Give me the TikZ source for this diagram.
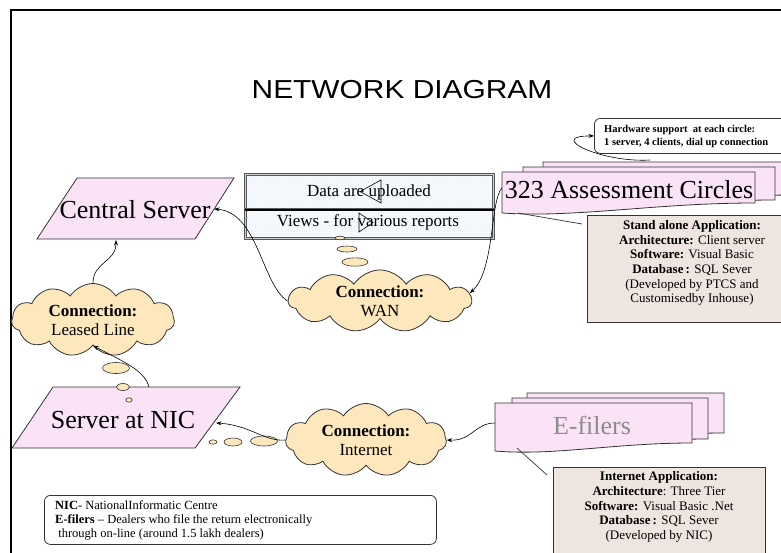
\documentclass[tikz,border=0pt]{standalone}
\usepackage{graphicx}
\usepackage{fontspec}
\setmainfont{Liberation Serif}
\newfontfamily\headfont{Liberation Sans}
\usetikzlibrary{shapes.symbols,shapes.geometric,arrows.meta,patterns}

\definecolor{sheetpink}{HTML}{FBE3F7}
\definecolor{puff}{HTML}{FDE7BD}
\definecolor{notefill}{HTML}{EEE4E0}
\definecolor{edge}{HTML}{333333}
\definecolor{datafill}{HTML}{F6FAFD}
\definecolor{datadot}{HTML}{D3E2EE}
\definecolor{fadedtext}{HTML}{8C8C8C}

\tikzset{
  link/.style={draw=black, line width=0.6pt, -{Stealth[length=5.5pt,width=4pt]}},
  pointer/.style={draw=edge, line width=0.7pt},
  sheet/.style={fill=sheetpink, draw=edge, line width=0.8pt},
  serverbox/.style={fill=sheetpink, draw=edge, line width=0.8pt},
  bigtext/.style={font=\fontsize{26}{30}\selectfont, inner sep=0pt},
  cloudnode/.style={cloud, cloud puffs=11, cloud puff arc=115, cloud ignores aspect,
    fill=puff, draw=edge, line width=0.8pt, align=center, inner sep=0pt,
    font=\fontsize{17}{19.5}\selectfont},
  bubble/.style={fill=puff, draw=edge, line width=0.6pt},
  databox/.style={preaction={fill=datafill}, pattern=dots, pattern color=datadot,
    draw=gray!70!black, double=gray!40, double distance=1.2pt, line width=0.6pt,
    inner sep=0pt, font=\fontsize{17}{20}\selectfont},
  notebox/.style={fill=notefill, draw=edge, line width=0.9pt, inner sep=0pt},
  notetext/.style={align=center, inner sep=0pt, font=\fontsize{13}{14.6}\selectfont},
  roundbox/.style={fill=white, draw=edge, line width=0.8pt, rounded corners=6pt, inner sep=0pt},
}

% one sheet of a stacked document: left x, top y, right x, right bottom y, left bottom y
\newcommand\sheetpath[5]{%
  \pgfmathsetmacro\sheetw{#3-#1}%
  \path[sheet] (#1,#2) -- (#3,#2) -- (#3,#4)
    .. controls ({#3-0.4*\sheetw},#4) and ({#1+0.3*\sheetw},{#5+5}) .. (#1,#5) -- cycle;%
}

\begin{document}
\begin{tikzpicture}[x=1pt,y=-1pt]
\useasboundingbox (0,0) rectangle (781,552);

% slide frame
\draw[line width=2.5pt] (11,600) -- (11,10) -- (800,10);

% heading
\node[font=\headfont\fontsize{26}{30}\selectfont, inner sep=0pt] (title) at (402,90)
  {\scalebox{1.15}[1]{NETWORK DIAGRAM}};

% central server
\path[serverbox] (77,178) -- (234,178) -- (195,239) -- (37,239) -- cycle;
\node[bigtext] (cs) at (135,210) {Central Server};
\coordinate (csBottom) at (116,240);
\coordinate (csRight) at (214,209);

% server at NIC
\path[serverbox] (53,387) -- (240,387) -- (195,448) -- (12,448) -- cycle;
\node[bigtext] (nic) at (123,420) {Server at NIC};
\coordinate (nicTop) at (149,387);
\coordinate (nicRight) at (216,423);

% upload / view panel
\node[databox, minimum width=248, minimum height=35, anchor=north west] (up) at (245,174) {};
\node[databox, minimum width=248, minimum height=29, anchor=north west] (down) at (245,209) {};
\node[font=\fontsize{17}{20}\selectfont, inner sep=0pt] (uptext) at (369,192) {Data are uploaded};
\node[font=\fontsize{17}{20}\selectfont, inner sep=0pt] (downtext) at (368,222) {Views - for various reports};
\draw[line width=2pt] (up.south west) -- (up.south east);
\draw[line width=0.6pt] (360,191.5) -- (381,180) -- (381,203) -- cycle;
\draw[line width=0.6pt] (359,213) -- (373,222.5) -- (359,232) -- cycle;

% assessment circles, stacked sheets
\sheetpath{543}{162}{795}{195}{205}
\sheetpath{523}{167}{775}{200}{210}
\sheetpath{502}{172}{755}{203}{213}
\node[bigtext] (circles) at (629,190) {323 Assessment Circles};
\coordinate (acLeft) at (502,188);
\coordinate (acTop) at (650,160);
\coordinate (acFoot) at (518,213);

% e-filers, stacked sheets
\sheetpath{527}{393}{724}{433}{441}
\sheetpath{512}{398}{708}{439}{446}
\sheetpath{495}{403}{692}{443}{451}
\node[bigtext, text=fadedtext] (efilers) at (592,425) {E-filers};
\coordinate (efLeft) at (495,423);
\coordinate (efFoot) at (517,448);

% hardware note
\node[roundbox, minimum width=210, minimum height=35, anchor=north west] (hw) at (594,118) {};
\node[anchor=west, align=left, inner sep=0pt, font=\bfseries\fontsize{10.5}{13}\selectfont] (hwtext) at (604,136.5)
  {Hardware support\ \ at each circle:\\1 server, 4 clients, dial up connection};

% stand alone application note
\node[notebox, minimum width=212, minimum height=107, anchor=north west] (sabox) at (587,215) {};
\node[notetext] (satext) at (692,263)
  {\textbf{Stand alone Application:}\\
   \textbf{Architecture:} Client server\\
   \textbf{Software:} Visual Basic\\
   \textbf{Database\,:} SQL Sever\\
   (Developed by PTCS and\\
   Customisedby Inhouse)};
\draw[pointer] (acFoot) -- ([xshift=-5pt,yshift=-9pt]sabox.north west);

% internet application note
\node[notebox, minimum width=212, minimum height=100, anchor=north west] (iabox) at (553,467) {};
\node[notetext] (iatext) at (659,507)
  {\textbf{Internet Application:}\\
   \textbf{Architecture}: Three Tier\\
   \textbf{Software:} Visual Basic .Net\\
   \textbf{Database\,:} SQL Sever\\
   (Developed by NIC)};
\draw[pointer] (efFoot) -- ([xshift=-6pt,yshift=-8pt]iabox.north west);

% legend
\node[roundbox, minimum width=392, minimum height=49, anchor=north west] (legend) at (44,495) {};
\node[anchor=west, align=left, inner sep=0pt, font=\fontsize{12.5}{14}\selectfont] (legendtext) at (55,520)
  {\textbf{NIC}- NationalInformatic Centre\\
   \textbf{E-filers} -- Dealers who file the return electronically\\
   \ through on-line (around 1.5 lakh dealers)};

% connections
\node[cloudnode, minimum width=163, minimum height=73] (leased) at (93,320) {\textbf{Connection:}\\Leased Line};
\node[cloudnode, minimum width=183, minimum height=58] (wan) at (380,301) {\textbf{Connection:}\\WAN};
\node[cloudnode, minimum width=161, minimum height=73] (inet) at (366,440) {\textbf{Connection:}\\Internet};

% thought bubbles
\draw[bubble] (340,238) ellipse [x radius=5, y radius=1.8];
\draw[bubble] (347,249) ellipse [x radius=10, y radius=3];
\draw[bubble] (355,262) ellipse [x radius=13, y radius=4.2];
\draw[bubble] (116,368) ellipse [x radius=13.5, y radius=5.5];
\draw[bubble] (123,387) ellipse [x radius=6.5, y radius=3.5];
\draw[bubble] (129,400) ellipse [x radius=3.2, y radius=2.2];
\draw[bubble] (213,442) ellipse [x radius=4, y radius=2.2];
\draw[bubble] (233,442) ellipse [x radius=9, y radius=4];
\draw[bubble] (264,441) ellipse [x radius=13.5, y radius=5];

% connectors
\draw[link] (leased.north) .. controls (93,262) and (116,262) .. (csBottom);
\draw[link] (wan.west) .. controls (262,285) and (258,212) .. (csRight);
\draw[link] (acLeft) .. controls (490,200) and (495,270) .. (wan.5);
\draw[link] (acTop) .. controls (602,163) and (545,136) .. (hw.west);
\draw[link] (efLeft) .. controls (475,423) and (472,441) .. (inet.east);
\draw[link] (inet.west) .. controls (265,442) and (250,425) .. (nicRight);
\draw[link] (nicTop) .. controls (145,370) and (120,360) .. (leased.south);
\end{tikzpicture}
\end{document}
